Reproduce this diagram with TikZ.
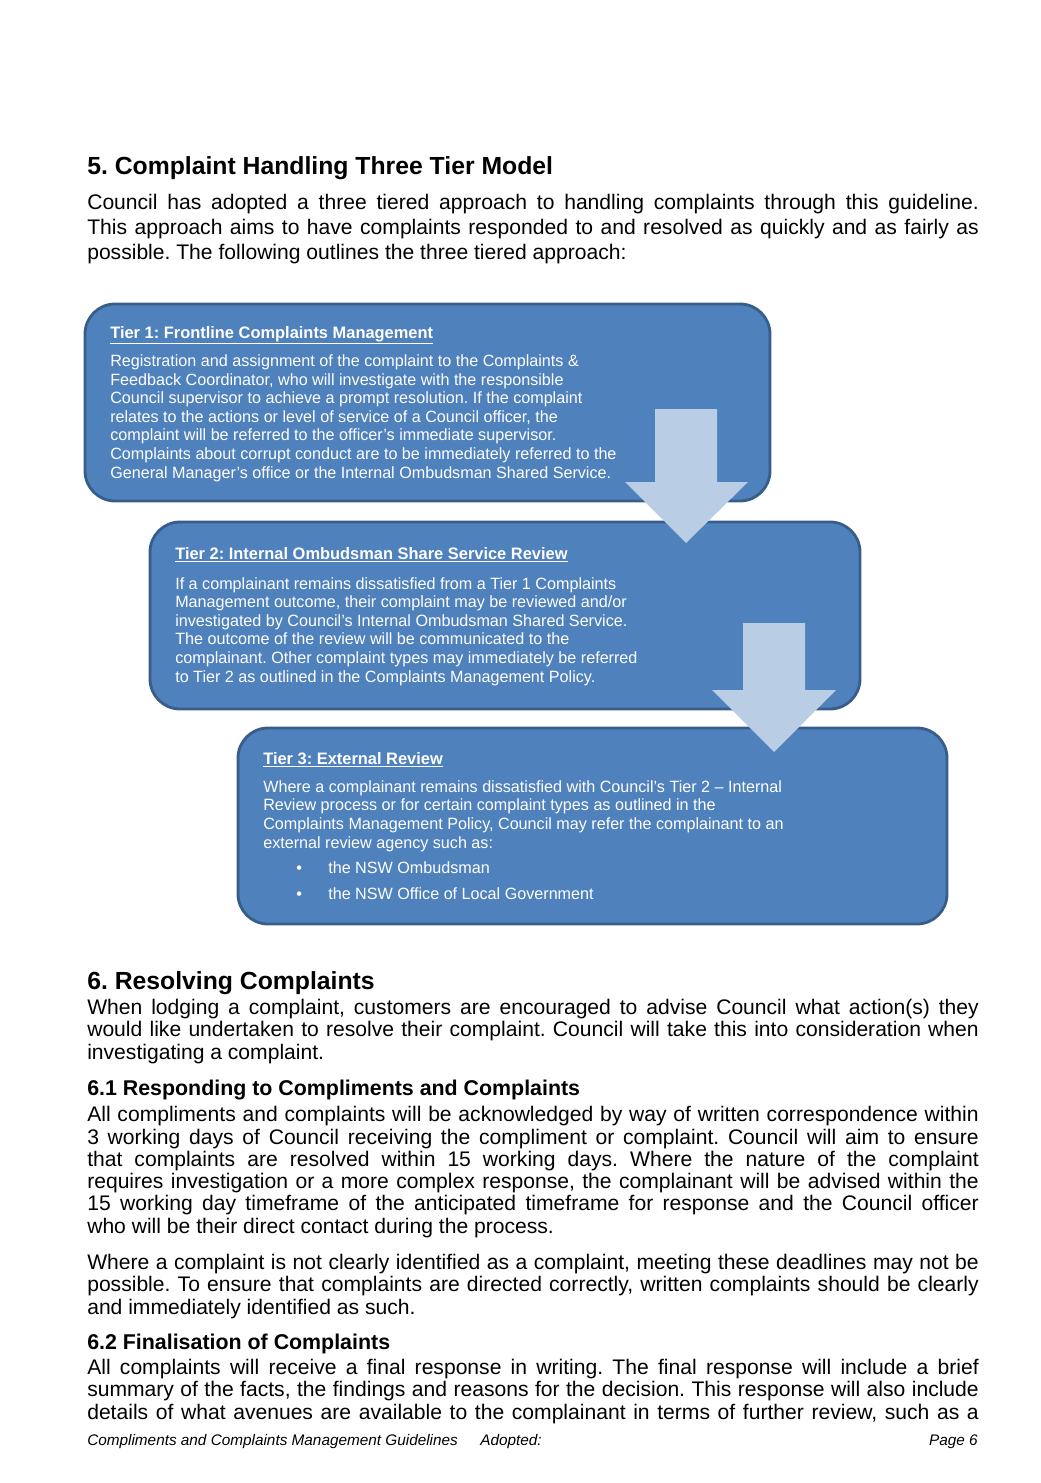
\documentclass[tikz,border=0pt]{standalone}
\usepackage{fontspec}
\setmainfont{Liberation Sans}
\newfontfamily\narrowfont[FakeStretch=0.99]{Liberation Sans}
\usepackage{xcolor}
\definecolor{tierblue}{HTML}{4F81BD}
\definecolor{tierline}{HTML}{385D8A}
\definecolor{arrowblue}{HTML}{B9CDE5}
\frenchspacing
\newcommand\jl[1]{\hbox to 634pt{#1}}
\newcommand\body{\fontsize{15}{17.8}\selectfont}
\newcommand\lowbody{\fontsize{15}{15.8}\selectfont}
\newcommand\boxbody{\narrowfont\fontsize{11.6}{13.2}\selectfont}

\begin{document}
\begin{tikzpicture}[x=0.025cm, y=-0.025cm,
  txt/.style={anchor=base west, inner sep=0, align=left},
  heading/.style={anchor=base west, inner sep=0, font=\bfseries\fontsize{17.6}{19}\selectfont},
  subheading/.style={anchor=base west, inner sep=0, font=\bfseries\fontsize{15.2}{17}\selectfont},
  tierbox/.style={draw=tierline, line width=2pt, fill=tierblue, rounded corners=0.75cm},
  tiertitle/.style={anchor=base west, inner sep=0, text=white, font=\narrowfont\bfseries\fontsize{11.8}{13}\selectfont},
  tiertext/.style={anchor=base west, inner sep=0, text=white, align=left, font=\boxbody},
  downarrow/.style={fill=arrowblue},
  foot/.style={anchor=base west, inner sep=0, font=\itshape\fontsize{10.9}{12}\selectfont},
]
\useasboundingbox (0,0) rectangle (1040,1483);

\node[heading] (h5) at (87,175) {5. Complaint Handling Three Tier Model};
\node[txt, font=\body] (intro) at (87,260) {%
\jl{Council has adopted a three tiered approach to handling complaints through this guideline.}\\
\jl{This approach aims to have complaints responded to and resolved as quickly and as fairly as}\\
possible. The following outlines the three tiered approach:};

% the three tiers
\draw[tierbox] (85,304) rectangle (770,501);
\node[tiertitle] (t1) at (110,338) {\underline{Tier 1: Frontline Complaints Management}};
\node[tiertext] (t1text) at (110,478) {%
Registration and assignment of the complaint to the Complaints \&\\
Feedback Coordinator, who will investigate with the responsible\\
Council supervisor to achieve a prompt resolution. If the complaint\\
relates to the actions or level of service of a Council officer, the\\
complaint will be referred to the officer’s immediate supervisor.\\
Complaints about corrupt conduct are to be immediately referred to the\\
General Manager’s office or the Internal Ombudsman Shared Service.};

\draw[tierbox] (150,522) rectangle (860,709);
\fill[downarrow] (655,409) -- (717,409) -- (717,482) -- (748,482) -- (686,543)
  -- (625,482) -- (655,482) -- cycle;
\node[tiertitle] (t2) at (175,559) {\underline{Tier 2: Internal Ombudsman Share Service Review}};
\node[tiertext] (t2text) at (175,682) {%
If a complainant remains dissatisfied from a Tier 1 Complaints\\
Management outcome, their complaint may be reviewed and/or\\
investigated by Council’s Internal Ombudsman Shared Service.\\
The outcome of the review will be communicated to the\\
complainant. Other complaint types may immediately be referred\\
to Tier 2 as outlined in the Complaints Management Policy.};

\draw[tierbox] (238,728) rectangle (947,924);
\fill[downarrow] (743,623) -- (805,623) -- (805,690) -- (836,690) -- (774,752)
  -- (712,690) -- (743,690) -- cycle;
\node[tiertitle] (t3) at (263,764) {\underline{Tier 3: External Review}};
\node[tiertext] (t3text) at (263,848) {%
Where a complainant remains dissatisfied with Council’s Tier 2 – Internal\\
Review process or for certain complaint types as outlined in the\\
Complaints Management Policy, Council may refer the complainant to an\\
external review agency such as:};
\node[tiertext] (b1) at (296,873) {•};
\node[tiertext] (b1text) at (328,873) {the NSW Ombudsman};
\node[tiertext] (b2) at (296,899) {•};
\node[tiertext] (b2text) at (328,899) {the NSW Office of Local Government};

% section 6
\node[heading] (h6) at (87,989) {6. Resolving Complaints};
\node[txt, font=\lowbody] (p6) at (87,1059) {%
\jl{When lodging a complaint, customers are encouraged to advise Council what action(s) they}\\
\jl{would like undertaken to resolve their complaint. Council will take this into consideration when}\\
investigating a complaint.};
\node[subheading] (h61) at (87,1095) {6.1 Responding to Compliments and Complaints};
\node[txt, font=\lowbody] (p61a) at (87,1233) {%
\jl{All compliments and complaints will be acknowledged by way of written correspondence within}\\
\jl{3 working days of Council receiving the compliment or complaint. Council will aim to ensure}\\
\jl{that complaints are resolved within 15 working days. Where the nature of the complaint}\\
\jl{requires investigation or a more complex response, the complainant will be advised within the}\\
\jl{15 working day timeframe of the anticipated timeframe for response and the Council officer}\\
who will be their direct contact during the process.};
\node[txt, font=\lowbody] (p61b) at (87,1314) {%
\jl{Where a complaint is not clearly identified as a complaint, meeting these deadlines may not be}\\
\jl{possible. To ensure that complaints are directed correctly, written complaints should be clearly}\\
and immediately identified as such.};
\node[subheading] (h62) at (87,1349) {6.2 Finalisation of Complaints};
\node[txt, font=\lowbody] (p62) at (87,1419) {%
\jl{All complaints will receive a final response in writing. The final response will include a brief}\\
\jl{summary of the facts, the findings and reasons for the decision. This response will also include}\\
\jl{details of what avenues are available to the complainant in terms of further review, such as a}};

\node[foot] (f1) at (87,1445) {Compliments and Complaints Management Guidelines};
\node[foot] (f2) at (480,1445) {Adopted:};
\node[foot, anchor=base east] (f3) at (978,1445) {Page 6};
\end{tikzpicture}
\end{document}
